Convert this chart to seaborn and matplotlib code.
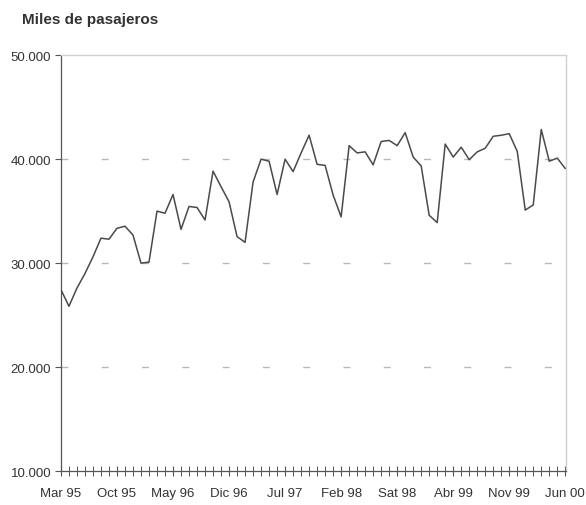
import matplotlib
matplotlib.use("Agg")
import matplotlib.pyplot as plt
import seaborn as sns
import pandas as pd
import numpy as np

# Monthly passengers (thousands), Mar 1995 - Jun 2000
months = ["Mar 95", "Abr 95", "May 95", "Jun 95", "Jul 95", "Ago 95", "Sep 95", "Oct 95",
          "Nov 95", "Dic 95", "Ene 96", "Feb 96", "Mar 96", "Abr 96", "May 96", "Jun 96",
          "Jul 96", "Ago 96", "Sep 96", "Oct 96", "Nov 96", "Dic 96", "Ene 97", "Feb 97",
          "Mar 97", "Abr 97", "May 97", "Jun 97", "Jul 97", "Ago 97", "Sep 97", "Oct 97",
          "Nov 97", "Dic 97", "Ene 98", "Feb 98", "Mar 98", "Abr 98", "May 98", "Jun 98",
          "Jul 98", "Ago 98", "Sat 98", "Oct 98", "Nov 98", "Dic 98", "Ene 99", "Feb 99",
          "Mar 99", "Abr 99", "May 99", "Jun 99", "Jul 99", "Ago 99", "Sep 99", "Oct 99",
          "Nov 99", "Dic 99", "Ene 00", "Feb 00", "Mar 00", "Abr 00", "May 00", "Jun 00"]

pasajeros = [27450, 25850, 27600, 29000, 30600, 32400, 32300, 33350,
             33550, 32700, 30000, 30100, 35000, 34800, 36600, 33250,
             35450, 35350, 34150, 38850, 37350, 35900, 32550, 32000,
             37800, 40000, 39800, 36600, 40000, 38800, 40600, 42300,
             39500, 39400, 36550, 34450, 41300, 40600, 40700, 39450,
             41700, 41800, 41300, 42550, 40200, 39350, 34600, 33900,
             41450, 40200, 41150, 39950, 40700, 41050, 42200, 42300,
             42450, 40750, 35100, 35600, 42850, 39800, 40100, 39100]

y_ticks = [10000, 20000, 30000, 40000, 50000]
y_ticklabels = ["10.000", "20.000", "30.000", "40.000", "50.000"]
grid_levels = [20000, 30000, 40000]
label_step = 7

sns.set_theme(style="white")
plt.rcParams["font.family"] = ["Liberation Sans", "DejaVu Sans"]

df = pd.DataFrame({"mes": np.arange(len(pasajeros)), "pasajeros": pasajeros})

fig = plt.figure(figsize=(5.86, 5.06), dpi=100)
ax = fig.add_axes([0.104, 0.067, 0.862, 0.822])

# dashed horizontal guides
for lvl in grid_levels:
    ax.axhline(lvl, color="#b8b8b8", lw=1.0, dashes=(5, 24), zorder=1)

sns.lineplot(data=df, x="mes", y="pasajeros", ax=ax, color="#4a4a4a", lw=1.1, zorder=3)

ax.set_xlim(0, len(pasajeros) - 1 + 0.1)
ax.set_ylim(10000, 50000)

ax.set_yticks(y_ticks)
ax.set_yticklabels(y_ticklabels)
major = list(range(0, len(pasajeros), label_step))
ax.set_xticks(major)
ax.set_xticklabels([months[i] for i in major])
ax.set_xticks(np.arange(len(pasajeros)), minor=True)

ax.tick_params(axis="y", which="major", direction="out", length=4, width=0.8,
               color="#555555", labelsize=9.5, labelcolor="#333333", pad=3, left=True)
ax.tick_params(axis="x", which="major", direction="inout", length=7, width=0.8,
               color="#555555", labelsize=9.5, labelcolor="#333333", pad=8, bottom=True)
ax.tick_params(axis="x", which="minor", direction="inout", length=7, width=0.7,
               color="#555555", bottom=True)

for side in ["left", "bottom"]:
    ax.spines[side].set_color("#555555")
    ax.spines[side].set_linewidth(0.9)
for side in ["top", "right"]:
    ax.spines[side].set_color("#d0d0d0")
    ax.spines[side].set_linewidth(1.0)

ax.set_xlabel("")
ax.set_ylabel("")

fig.text(0.038, 0.96, "Miles de pasajeros", fontsize=11, fontweight="bold",
         color="#333333", ha="left", va="center")

fig.savefig("out.png", dpi=100, facecolor="white")
